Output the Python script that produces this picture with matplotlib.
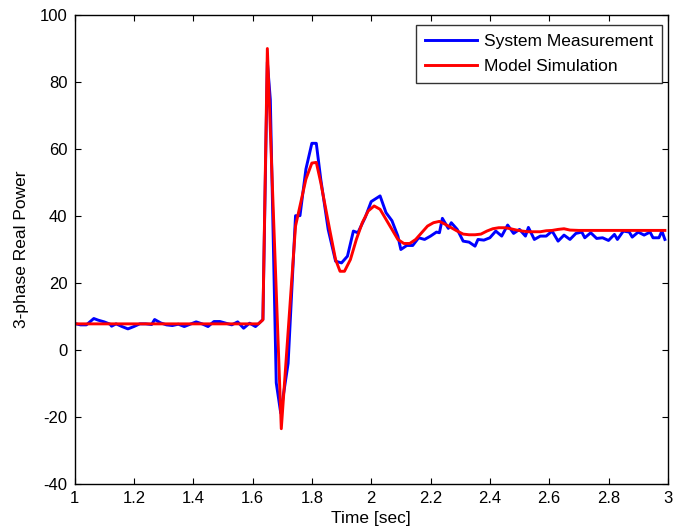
import matplotlib
matplotlib.use("Agg")
import matplotlib.pyplot as plt

plt.rcParams["font.family"] = ["Liberation Sans", "DejaVu Sans"]
plt.rcParams["axes.unicode_minus"] = False

# Measured 3-phase real power
meas_t = [1.00, 1.02, 1.04, 1.065, 1.08, 1.10, 1.12, 1.125, 1.14, 1.16, 1.18, 1.20,
          1.22, 1.24, 1.26, 1.27, 1.29, 1.31, 1.33, 1.35, 1.37, 1.39, 1.41, 1.43,
          1.45, 1.47, 1.49, 1.51, 1.53, 1.55, 1.57, 1.59, 1.61, 1.62, 1.635, 1.65,
          1.66, 1.68, 1.695, 1.72, 1.745, 1.76, 1.78, 1.80, 1.815, 1.83, 1.855, 1.88,
          1.90, 1.92, 1.94, 1.955, 1.98, 2.00, 2.03, 2.05, 2.07, 2.09, 2.10, 2.12,
          2.14, 2.16, 2.18, 2.20, 2.22, 2.23, 2.24, 2.26, 2.27, 2.29, 2.31, 2.33,
          2.35, 2.36, 2.38, 2.40, 2.42, 2.44, 2.46, 2.48, 2.50, 2.52, 2.53, 2.55,
          2.57, 2.59, 2.61, 2.63, 2.65, 2.67, 2.69, 2.71, 2.72, 2.74, 2.76, 2.78,
          2.80, 2.82, 2.83, 2.85, 2.87, 2.88, 2.90, 2.92, 2.94, 2.95, 2.97, 2.98,
          2.99]
meas_p = [7.9, 7.5, 7.5, 9.4, 8.9, 8.4, 7.7, 7.1, 7.8, 7.0, 6.3, 7.0,
          7.8, 7.8, 7.6, 9.1, 8.1, 7.5, 7.3, 7.7, 7.0, 7.7, 8.4, 7.8,
          7.0, 8.5, 8.5, 8.0, 7.5, 8.4, 6.5, 8.0, 7.0, 7.8, 9.1, 86.0,
          74.8, -9.8, -18.8, -4.0, 40.1, 40.1, 54.0, 61.7, 61.7, 51.0, 36.0, 26.5,
          26.0, 28.0, 35.5, 35.0, 39.6, 44.3, 46.0, 41.0, 38.6, 34.0, 30.0, 31.2,
          31.2, 33.5, 33.0, 34.0, 35.2, 35.0, 39.3, 36.3, 38.0, 36.0, 32.5, 32.2,
          31.0, 33.0, 32.8, 33.5, 35.5, 34.0, 37.3, 34.8, 36.0, 34.0, 36.6, 33.0,
          34.0, 34.0, 35.5, 32.5, 34.3, 33.0, 34.8, 35.2, 33.5, 35.0, 33.3, 33.5,
          32.7, 34.5, 33.0, 35.5, 35.2, 33.7, 35.2, 34.3, 35.2, 33.5, 33.5, 35.5,
          33.0]

# Simulated response of the model
sim_t = [1.00, 1.62, 1.635, 1.65, 1.697, 1.745, 1.76, 1.78, 1.80, 1.815, 1.83,
         1.86, 1.88, 1.895, 1.91, 1.93, 1.95, 1.97, 1.99, 2.01, 2.03, 2.05,
         2.07, 2.09, 2.11, 2.13, 2.15, 2.17, 2.19, 2.21, 2.23, 2.25, 2.27,
         2.29, 2.31, 2.33, 2.35, 2.37, 2.39, 2.41, 2.43, 2.45, 2.47, 2.49,
         2.51, 2.53, 2.55, 2.57, 2.59, 2.61, 2.63, 2.65, 2.67, 2.70, 2.99]
sim_p = [7.8, 7.8, 9.0, 90.0, -23.5, 37.0, 43.0, 51.0, 55.8, 56.0, 50.0,
         36.0, 27.0, 23.5, 23.5, 27.0, 33.0, 38.0, 41.5, 43.0, 42.0, 39.0,
         36.0, 33.0, 31.8, 31.8, 33.0, 35.0, 37.0, 38.0, 38.4, 37.5, 36.5,
         35.5, 34.6, 34.4, 34.4, 34.6, 35.5, 36.2, 36.5, 36.5, 36.2, 35.8,
         35.5, 35.3, 35.3, 35.3, 35.6, 35.7, 36.0, 36.2, 35.8, 35.7, 35.7]

x_ticks = [1, 1.2, 1.4, 1.6, 1.8, 2, 2.2, 2.4, 2.6, 2.8, 3]
x_tick_labels = ["1", "1.2", "1.4", "1.6", "1.8", "2", "2.2", "2.4", "2.6", "2.8", "3"]
y_ticks = [-40, -20, 0, 20, 40, 60, 80, 100]

fig = plt.figure(figsize=(6.75, 5.29), dpi=100)
ax = fig.add_axes([0.1104, 0.0851, 0.879, 0.8865])

ax.plot(meas_t, meas_p, color="#0000ff", lw=2.1, label="System Measurement")
ax.plot(sim_t, sim_p, color="#ff0000", lw=2.1, label="Model Simulation")

ax.set_xlim(1, 3)
ax.set_ylim(-40, 100)
ax.set_xticks(x_ticks)
ax.set_xticklabels(x_tick_labels)
ax.set_yticks(y_ticks)
ax.tick_params(direction="in", top=True, right=True, labelsize=12,
               length=4, width=0.8, pad=5)
for s in ax.spines.values():
    s.set_linewidth(1.0)

ax.set_xlabel("Time [sec]", fontsize=12.5, labelpad=4)
ax.set_ylabel("3-phase Real Power", fontsize=12.5, labelpad=8)

leg = ax.legend(loc="upper right", bbox_to_anchor=(0.99, 0.979), fontsize=12.5,
                frameon=True, fancybox=False, edgecolor="black",
                handlelength=3.0, handletextpad=0.4, labelspacing=0.6,
                borderpad=0.5, borderaxespad=0.0)
leg.get_frame().set_linewidth(1.0)

fig.savefig("out.png", dpi=100)
